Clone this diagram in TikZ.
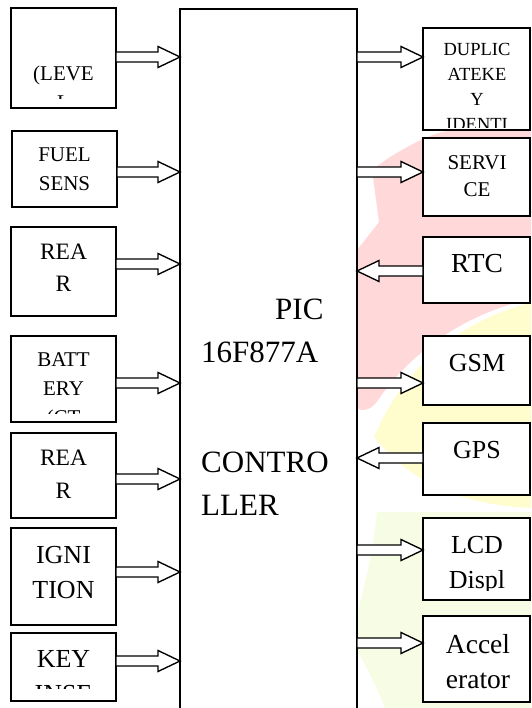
\documentclass[tikz,border=0pt]{standalone}
\usepackage{fontspec}
\setmainfont{Liberation Serif}
\usetikzlibrary{calc}
\definecolor{wmpink}{RGB}{255,216,218}
\definecolor{wmyellow}{RGB}{255,252,206}
\definecolor{wmgreen}{RGB}{247,252,228}
\begin{document}
\begin{tikzpicture}[x=1pt,y=-1pt,
  box/.style={draw,fill=white,line width=1.8pt,inner sep=0pt,outer sep=0pt,anchor=north west},
  ctrlbox/.style={draw,fill=white,line width=1.5pt,inner sep=0pt,outer sep=0pt,anchor=north west},
  lbl/.style={anchor=base,inner sep=0pt},
  lblw/.style={anchor=base west,inner sep=0pt},
  fa/.style={font=\fontsize{18.5}{20}\selectfont},
  fb/.style={font=\fontsize{21}{24}\selectfont},
  fc/.style={font=\fontsize{23.5}{26}\selectfont},
  fd/.style={font=\fontsize{26}{28}\selectfont},
  fe/.style={font=\fontsize{27.5}{30}\selectfont},
  ff/.style={font=\fontsize{31}{34}\selectfont},
  blockarrow/.style={draw,fill=white,line width=1.35pt,line join=miter,
    to path={let \p1=(\tikztostart), \p2=(\tikztotarget),
      \n1={(\x2-\x1)/abs(\x2-\x1)} in
      (\x1,\y1+5pt) -- ({\x2-(\n1)*22pt},\y1+5pt) -- ({\x2-(\n1)*22pt},\y1+10.5pt)
      -- (\x2,\y1) -- ({\x2-(\n1)*22pt},\y1-10.5pt) -- ({\x2-(\n1)*22pt},\y1-5pt)
      -- (\x1,\y1-5pt) -- cycle}},
]
\useasboundingbox (0,0) rectangle (531,708);

% faint watermark behind the diagram
\fill[wmgreen] (377,512) .. controls (372,560) and (362,595) .. (357,613)
  -- (357,650) .. controls (368,670) and (378,690) .. (385,708)
  -- (531,708) -- (531,512) -- cycle;
\fill[wmyellow] (376,433) .. controls (405,365) and (465,318) .. (531,303)
  -- (531,508) .. controls (470,505) and (415,488) .. (374,437) -- cycle;
\fill[wmpink] (390,157) .. controls (410,145) and (430,134) .. (447,131)
  -- (531,131) -- (531,299)
  .. controls (480,310) and (420,340) .. (378,400)
  .. controls (372,410) and (362,412) .. (357,408)
  -- (357,250) -- (379,222) -- (372,170) -- cycle;

% controller
\node[ctrlbox,minimum width=177pt,minimum height=702pt] (ctrl) at (180,9) {};
\node[lblw,ff] (c1) at (275,319) {PIC};
\node[lblw,ff] (c2) at (201,362) {16F877A};
\node[lblw,ff] (c3) at (201,472) {CONTRO};
\node[lblw,ff] (c4) at (201,515) {LLER};

% left boxes
\node[box,minimum width=105pt,minimum height=100pt] (l1) at (11,8) {};
\node[box,minimum width=105pt,minimum height=76pt] (l2) at (12,131) {};
\node[box,minimum width=105pt,minimum height=89pt] (l3) at (11,227) {};
\node[box,minimum width=105pt,minimum height=86pt] (l4) at (11,336) {};
\node[box,minimum width=105pt,minimum height=85pt] (l5) at (11,433) {};
\node[box,minimum width=105pt,minimum height=97pt] (l6) at (11,528) {};
\node[box,minimum width=105pt,minimum height=68pt] (l7) at (11,633) {};

\begin{scope}
\clip (l1.north west) rectangle (l1.east |- 0,99);
\node[lbl,fb] (l1a) at (63.5,81) {(LEVE};
\node[lbl,fb] (l1b) at (63.5,110) {L};
\end{scope}
\node[lbl,fb] (l2a) at (64.5,162) {FUEL};
\node[lbl,fb] (l2b) at (64.5,191) {SENS};
\node[lbl,fc] (l3a) at (63.5,259) {REA};
\node[lbl,fc] (l3b) at (63.5,291) {R};
\begin{scope}
\clip (l4.north west) rectangle (l4.east |- 0,413);
\node[lbl,fb] (l4a) at (63.5,366) {BATT};
\node[lbl,fb] (l4b) at (63.5,395) {ERY};
\node[lbl,fb] (l4c) at (63.5,424) {(CT};
\end{scope}
\node[lbl,fc] (l5a) at (63.5,465) {REA};
\node[lbl,fc] (l5b) at (63.5,498) {R};
\node[lbl,fd] (l6a) at (63.5,563) {IGNI};
\node[lbl,fd] (l6b) at (63.5,598) {TION};
\begin{scope}
\clip (l7.north west) rectangle (l7.east |- 0,688);
\node[lbl,fd] (l7a) at (63.5,667) {KEY};
\node[lbl,fd] (l7b) at (63.5,702) {INSE};
\end{scope}

% right boxes
\node[box,minimum width=107pt,minimum height=102pt] (r1) at (423,28) {};
\node[box,minimum width=107pt,minimum height=78pt] (r2) at (423,138) {};
\node[box,minimum width=107pt,minimum height=66pt] (r3) at (423,237) {};
\node[box,minimum width=107pt,minimum height=69pt] (r4) at (423,336) {};
\node[box,minimum width=107pt,minimum height=72pt] (r5) at (423,423) {};
\node[box,minimum width=107pt,minimum height=82pt] (r6) at (423,518) {};
\node[box,minimum width=107pt,minimum height=86pt] (r7) at (423,616) {};

\begin{scope}
\clip (r1.north west) rectangle (r1.east |- 0,128);
\node[lbl,fa] (r1a) at (477,56) {DUPLIC};
\node[lbl,fa] (r1b) at (477,81) {ATEKE};
\node[lbl,fa] (r1c) at (477,106) {Y};
\node[lbl,fa] (r1d) at (477,131) {IDENTI};
\end{scope}
\node[lbl,fb] (r2a) at (477,170) {SERVI};
\node[lbl,fb] (r2b) at (477,197) {CE};
\node[lbl,fe] (r3a) at (477,272) {RTC};
\node[lbl,fd] (r4a) at (477,371) {GSM};
\node[lbl,fd] (r5a) at (477,458) {GPS};
\begin{scope}
\clip (r6.north west) rectangle (r6.east |- 0,590);
\node[lbl,fd] (r6a) at (477,553) {LCD};
\node[lbl,fd] (r6b) at (477,588) {Displ};
\end{scope}
\node[lbl,fe] (r7a) at (478,653) {Accel};
\node[lbl,fe] (r7b) at (478,688) {erator};

% arrows left -> controller
\draw[blockarrow] (l1.east |- 0,57) to (ctrl.west |- 0,57);
\draw[blockarrow] (l2.east |- 0,172) to (ctrl.west |- 0,172);
\draw[blockarrow] (l3.east |- 0,264) to (ctrl.west |- 0,264);
\draw[blockarrow] (l4.east |- 0,383) to (ctrl.west |- 0,383);
\draw[blockarrow] (l5.east |- 0,479) to (ctrl.west |- 0,479);
\draw[blockarrow] (l6.east |- 0,572) to (ctrl.west |- 0,572);
\draw[blockarrow] (l7.east |- 0,661) to (ctrl.west |- 0,661);

% arrows controller <-> right
\draw[blockarrow] (ctrl.east |- 0,57) to (r1.west |- 0,57);
\draw[blockarrow] (ctrl.east |- 0,172) to (r2.west |- 0,172);
\draw[blockarrow] (r3.west |- 0,271) to (ctrl.east |- 0,271);
\draw[blockarrow] (ctrl.east |- 0,383) to (r4.west |- 0,383);
\draw[blockarrow] (r5.west |- 0,458) to (ctrl.east |- 0,458);
\draw[blockarrow] (ctrl.east |- 0,550) to (r6.west |- 0,550);
\draw[blockarrow] (ctrl.east |- 0,643) to (r7.west |- 0,643);
\end{tikzpicture}
\end{document}
